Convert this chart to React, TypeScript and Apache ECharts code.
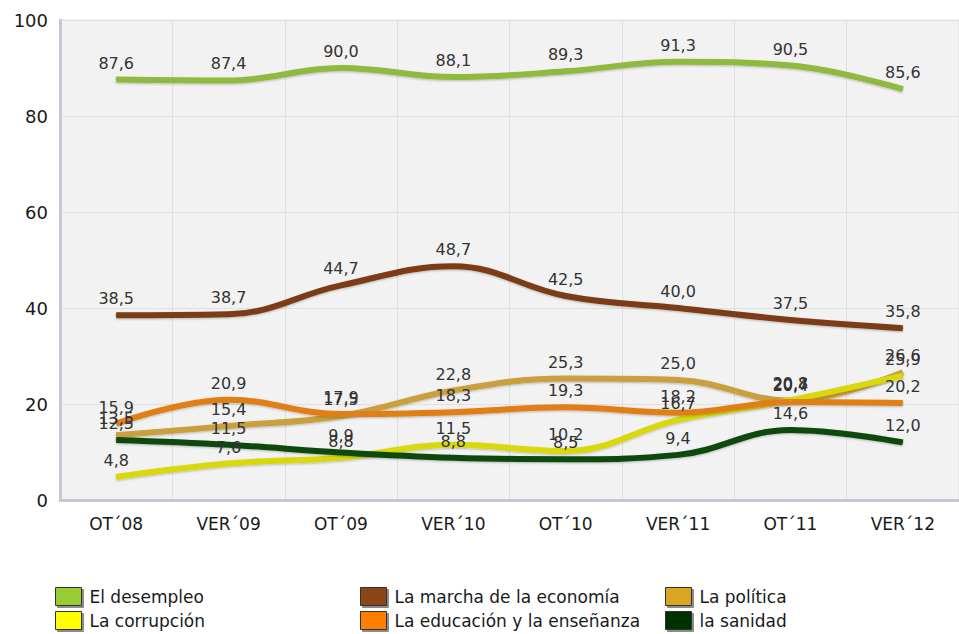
import React, { useEffect, useRef } from "react";
import * as echarts from "echarts";

const categories = ["OT´08", "VER´09", "OT´09", "VER´10", "OT´10", "VER´11", "OT´11", "VER´12"];
const yTicks = [0, 20, 40, 60, 80, 100];

const desempleo = [87.6, 87.4, 90.0, 88.1, 89.3, 91.3, 90.5, 85.6];
const economia = [38.5, 38.7, 44.7, 48.7, 42.5, 40.0, 37.5, 35.8];
const politica = [13.5, 15.4, 17.5, 22.8, 25.3, 25.0, 20.7, 26.6];
const corrupcion = [4.8, 7.6, 8.8, 11.5, 10.2, 16.7, 20.8, 25.9];
const educacion = [15.9, 20.9, 17.9, 18.3, 19.3, 18.2, 20.4, 20.2];
const sanidad = [12.5, 11.5, 9.9, 8.8, 8.5, 9.4, 14.6, 12.0];

const seriesNames = [
  "El desempleo",
  "La marcha de la economía",
  "La política",
  "La corrupción",
  "La educación y la enseñanza",
  "la sanidad",
];
const seriesData = [desempleo, economia, politica, corrupcion, educacion, sanidad];
const lineColors = ["#8fba3c", "#7b3d14", "#c9a03e", "#d8d80c", "#e07f12", "#0c4a0c"];
const legendColors = ["#99cc33", "#8b4513", "#daa520", "#ffff00", "#ff8000", "#003300"];

const FONT = "DejaVu Sans, Verdana, sans-serif";

export default function App() {
  const ref = useRef<HTMLDivElement>(null);
  useEffect(() => {
    if (!ref.current) return;
    const chart = echarts.init(ref.current, undefined, { renderer: "svg" });
    const legendCols = [
      [0, 3],
      [1, 4],
      [2, 5],
    ];
    const legendLefts = [55, 360, 665];
    chart.setOption({
      animation: false,
      backgroundColor: "#ffffff",
      grid: {
        left: 60,
        top: 20,
        width: 906,
        height: 480,
        show: true,
        backgroundColor: "#f2f2f2",
        borderColor: "#dcdfe6",
        borderWidth: 1,
        containLabel: false,
      },
      xAxis: {
        type: "category",
        data: categories,
        boundaryGap: true,
        axisLine: { show: true, lineStyle: { color: "#c3cad6", width: 3 } },
        axisTick: { show: false },
        axisLabel: { color: "#1a1a1a", fontSize: 17, fontFamily: FONT, margin: 15 },
        splitLine: { show: true, lineStyle: { color: "#e0e0e0", width: 1 } },
      },
      yAxis: {
        type: "value",
        min: yTicks[0],
        max: yTicks[yTicks.length - 1],
        interval: 20,
        axisLine: { show: true, lineStyle: { color: "#c3cad6", width: 3 } },
        axisTick: { show: false },
        axisLabel: { color: "#1a1a1a", fontSize: 18, fontFamily: FONT, margin: 12 },
        splitLine: { show: true, lineStyle: { color: "#e0e0e0", width: 1 } },
      },
      legend: legendCols.map((idxs, i) => ({
        orient: "vertical",
        left: legendLefts[i],
        top: 587,
        padding: 0,
        itemWidth: 26,
        itemHeight: 18,
        itemGap: 5,
        icon: "rect",
        selectedMode: false,
        textStyle: { color: "#1a1a1a", fontSize: 17, fontFamily: FONT, padding: [0, 0, 0, 3] },
        data: idxs.map((k) => ({
          name: seriesNames[k],
          itemStyle: {
            color: legendColors[k],
            borderColor: "#333333",
            borderWidth: 1,
            shadowColor: "rgba(0,0,0,0.45)",
            shadowOffsetX: 2,
            shadowOffsetY: 2,
            shadowBlur: 1,
          },
        })),
      })),
      series: seriesData.map((d, i) => ({
        name: seriesNames[i],
        type: "line",
        data: d,
        smooth: 0.4,
        symbol: "circle",
        symbolSize: 1,
        itemStyle: { color: lineColors[i] },
        lineStyle: {
          color: lineColors[i],
          width: 6,
          shadowColor: "rgba(0,0,0,0.25)",
          shadowBlur: 2,
          shadowOffsetY: 1,
        },
        label: {
          show: true,
          position: "top",
          distance: 8,
          color: "#333333",
          fontSize: 16,
          fontFamily: FONT,
          formatter: (p: any) => Number(p.value).toFixed(1).replace(".", ","),
        },
        emphasis: { disabled: true },
      })),
    });
    return () => chart.dispose();
  }, []);
  return (
    <div
      ref={ref}
      style={{ position: "fixed", left: 0, top: 0, width: 959, height: 634 }}
    />
  );
}
